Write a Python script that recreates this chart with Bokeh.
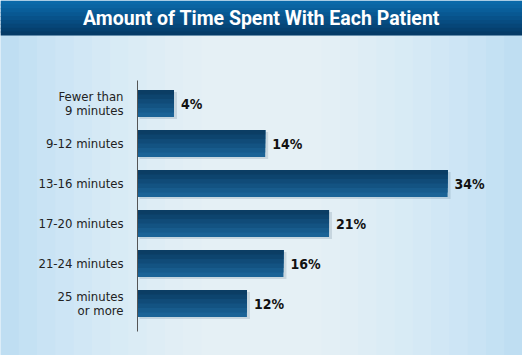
import numpy as np
from bokeh.plotting import figure
from bokeh.models import Range1d, BoxAnnotation, ColumnDataSource
from bokeh.core.properties import value
from bokeh.embed import file_html
from bokeh.resources import INLINE

# ---- data ----
categories = ["Fewer than\n9 minutes", "9-12 minutes", "13-16 minutes",
              "17-20 minutes", "21-24 minutes", "25 minutes\nor more"]
percent = [4, 14, 34, 21, 16, 12]
title_text = "Amount of Time Spent With Each Patient"

# ---- layout helpers (pixels) ----
W, H = 522, 355
x0_px = 137.0          # pixel where x=0
px_per_unit = 9.12     # pixels per percent
y0_px = 103.0          # pixel center of first bar
row_px = 40.0          # pixels between bar centers

def xd(px):
    return (px - x0_px) / px_per_unit

def yd(py):
    return (py - y0_px) / row_px

FONT = "'DejaVu Sans Condensed', 'Liberation Sans Narrow', Roboto, sans-serif"

idx = np.arange(len(categories))
src = ColumnDataSource(dict(y=idx, v=percent, cat=categories,
                            lab=[f"{p}%" for p in percent]))

p = figure(width=W, height=H, output_backend="svg", toolbar_location=None,
           x_range=Range1d(xd(0), xd(W)), y_range=Range1d(yd(H), yd(0)),
           min_border=0, outline_line_color=None)
p.axis.visible = False
p.grid.visible = False
p.background_fill_color = "#b9dbf1"
p.border_fill_color = "#b9dbf1"

# soft light glow in the middle of background
nglow = 12
for k in range(nglow):
    frac = 1.0 - k * 0.07
    half = W * frac / 2
    p.add_layout(BoxAnnotation(left=xd(W / 2 - half), right=xd(W / 2 + half),
                               top=yd(35), bottom=yd(H),
                               fill_color="white", fill_alpha=0.09, line_color=None,
                               level="underlay"))

# title bar gradient
title_h = 35
cols = ["#0a69a9", "#0a64a2", "#095e9a", "#085892", "#07528a", "#074c81",
        "#064678", "#05406f", "#053b67"]
n = len(cols)
for i, c in enumerate(cols):
    p.add_layout(BoxAnnotation(top=yd(title_h * i / n), bottom=yd(min(title_h, title_h * (i + 1) / n + 1)),
                               fill_color=c, fill_alpha=1, line_color=None,
                               level="underlay"))

p.text(x=[xd(W / 2)], y=[yd(18)], text=[title_text], text_color="white",
       text_font=value("Roboto"), text_font_style="bold", text_font_size="19.5px",
       text_align="center", text_baseline="middle")

bar_h = 27 / row_px
# shadow
shadow = ColumnDataSource(dict(y=idx + 2 / row_px, r=np.array(percent) + 3 / px_per_unit))
p.hbar(y="y", right="r", left=xd(x0_px + 2), height=bar_h, source=shadow,
       fill_color="#2a4c66", fill_alpha=0.15, line_color=None)
# bars (banded gradient, dark top -> lighter bottom)
bar_cols = ["#1b6396", "#175b8c", "#135382", "#104b78", "#0d446e", "#0b3d64"]
nb = len(bar_cols)
for j, c in enumerate(bar_cols):
    frac = 1 - j / nb
    p.hbar(y=idx - bar_h * (1 - frac) / 2, right=percent, left=0, height=bar_h * frac,
           fill_color=c, line_color=None)

# axis line
p.segment(x0=[0], x1=[0], y0=[yd(80)], y1=[yd(331)], line_color="#555555", line_width=1)

# category labels
p.text(x=xd(123), y="y", text="cat", source=src, text_align="right",
       text_baseline="middle", text_font=value(FONT),
       text_font_size="13px", text_color="#222222", text_line_height=0.95)

# value labels
p.text(x="v", y="y", text="lab", source=src, x_offset=7, text_align="left",
       text_baseline="middle", text_font=value(FONT),
       text_font_style="bold", text_font_size="14px", text_color="#111111")

open("out.html", "w").write(file_html(p, INLINE))
